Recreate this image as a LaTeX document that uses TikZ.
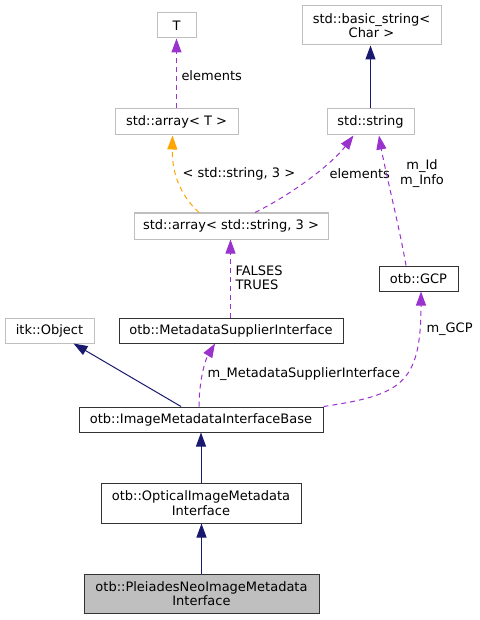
\documentclass[tikz,border=0pt]{standalone}
\usepackage{fontspec}
\setmainfont{DejaVu Sans}
\usepackage{tikz}
\usetikzlibrary{arrows.meta}
\usetikzlibrary{calc}
\definecolor{edgenavy}{HTML}{191970}
\definecolor{edgeorchid}{HTML}{9A32CD}
\definecolor{edgeorange}{HTML}{FFA500}
\definecolor{boxgray}{HTML}{BFBFBF}
\tikzstyle{cls} = [draw=black!80, fill=white, line width=1pt,
	inner sep=0pt, align=center,
	font=\fontsize{13}{14.5}\selectfont]
\tikzstyle{ext} = [cls, draw=boxgray]
\tikzstyle{lbl} = [inner sep=0pt, font=\fontsize{13}{14.5}\selectfont]
\tikzstyle{inherit} =[-{Triangle[length=14pt, width=10pt]}, draw=edgenavy, line width=1pt]
\tikzstyle{use} =[-{Triangle[length=14pt, width=10pt]}, draw=edgeorchid, line width=1pt, dash pattern=on 5pt off 4pt]
\tikzstyle{inst} =[use, draw=edgeorange]

\begin{document}
\begin{tikzpicture}[x=1pt, y=-1pt]
	\useasboundingbox (0,0) rectangle (479,620);
	\node (tparam) [ext, minimum width=39, minimum height=25] at (176.5,25.5) {T};
	\node (basicstr) [ext, minimum width=139, minimum height=39] at (371.5,25.5) {std::basic\_string<\\Char >};
	\node (arrT) [ext, minimum width=123, minimum height=26] at (176.5,122) {std::array< T >};
	\node (stdstr) [ext, minimum width=87, minimum height=26] at (370.5,122) {std::string};
	\node (arrStr) [ext, minimum width=194, minimum height=26] at (231,226) {std::array< std::string, 3 >};
	\node (gcp) [cls, minimum width=79, minimum height=25] at (418.5,278.5) {otb::GCP};
	\node (itkobj) [ext, minimum width=89, minimum height=25] at (49.5,330.5) {itk::Object};
	\node (supplier) [cls, minimum width=224, minimum height=25] at (231,330.5) {otb::MetadataSupplierInterface};
	\node (imibase) [cls, minimum width=244, minimum height=25] at (201,419.5) {otb::ImageMetadataInterfaceBase};
	\node (optical) [cls, minimum width=200, minimum height=40] at (201,503) {otb::OpticalImageMetadata\\Interface};
	\node (pleiades) [cls, fill=boxgray, minimum width=235, minimum height=39] at (201.5,593.5) {otb::PleiadesNeoImageMetadata\\Interface};

	\draw [use] (arrT) -- (tparam) node [lbl, anchor=west] at (181,76) {elements};
	\draw [inherit] (stdstr.north) -- (stdstr.north |- basicstr.south);
	\draw [inst] ([xshift=-32pt]arrStr.north) .. controls (178,193) and (172,170) .. ([xshift=-4pt]arrT.south)
		node [lbl, anchor=west] at (182,174) {< std::string, 3 >};
	\draw [use] ([xshift=24pt]arrStr.north) .. controls (300,190) and (335,160) .. ([xshift=-17pt]stdstr.south)
		node [lbl, anchor=west] at (329,174) {elements};
	\draw [use] ([xshift=-12.5pt]gcp.north) .. controls (400,230) and (385,170) .. ([xshift=8.5pt]stdstr.south)
		node [lbl, align=center] at (422,173.5) {m\_Id\\m\_Info};
	\draw [use] ([xshift=-0.5pt]supplier.north) -- ([xshift=-0.5pt]arrStr.south)
		node [lbl, align=left, anchor=west] at (235,278) {FALSES\\TRUES};
	\draw [inherit] ([xshift=-20pt]imibase.north) -- ([xshift=24pt]itkobj.south);
	\draw [use] ([xshift=-2pt]imibase.north) .. controls (199,385) and (204,362) .. ([xshift=-16pt]supplier.south)
		node [lbl, anchor=west] at (207,374) {m\_MetadataSupplierInterface};
	\draw [use] (imibase.north east) .. controls (400,395) and (421,385) .. ([xshift=2.5pt]gcp.south)
		node [lbl, anchor=west] at (426,329) {m\_GCP};
	\draw [inherit] (optical) -- (imibase);
	\draw [inherit] (pleiades.north) -- (pleiades.north |- optical.south);
\end{tikzpicture}
\end{document}
